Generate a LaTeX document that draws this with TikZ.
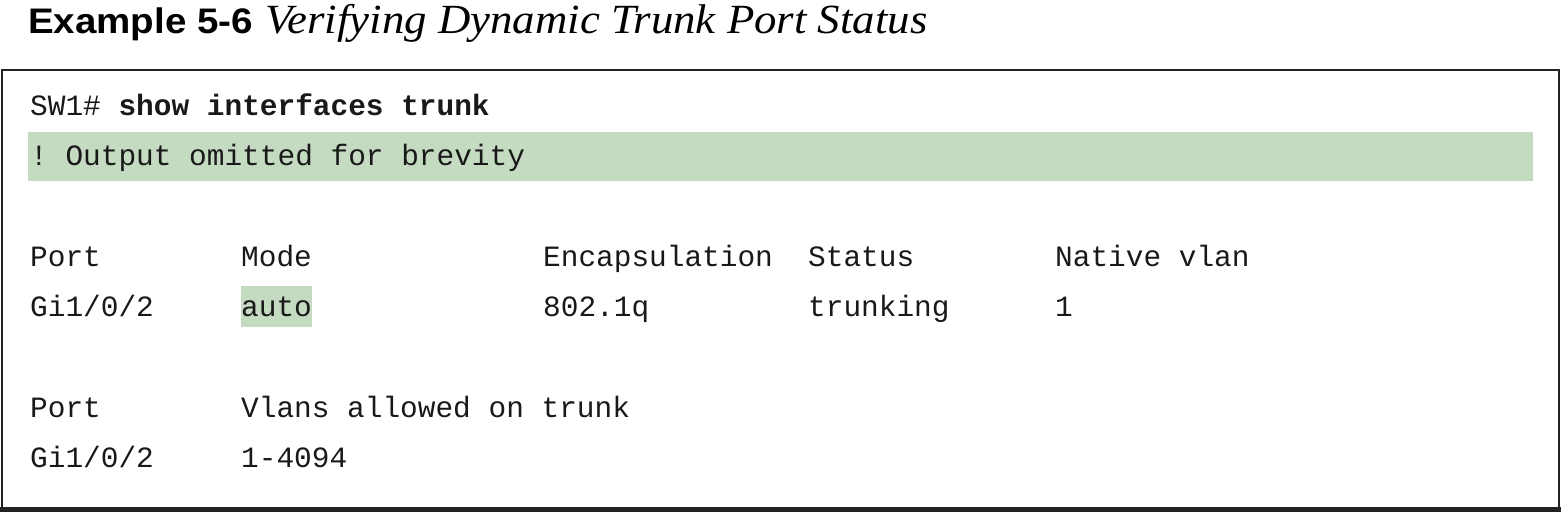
\documentclass[tikz,border=0pt]{standalone}
\usepackage{fontspec}
\newfontfamily\monof{Liberation Mono}
\newfontfamily\headsans{Liberation Sans}
\newfontfamily\headserif{Liberation Serif}
\definecolor{hlgreen}{HTML}{C4DBC1}
\definecolor{framegray}{HTML}{222222}
\frenchspacing
\begin{document}
\begin{tikzpicture}[x=1pt,y=-1pt,
  code/.style={anchor=base west,inner sep=0pt,font=\monof\fontsize{29.45}{30}\selectfont,text=black!90},
  hl/.style={fill=hlgreen,draw=none}]
\useasboundingbox (0,0) rectangle (1566,512);
% title
\node[anchor=base west,inner sep=0pt,font=\headsans\bfseries\fontsize{35.5}{37}\selectfont] (exnum) at (28,33.5) {\scalebox{1.085}[1]{Example 5-6}};
\node[anchor=base west,inner sep=0pt,font=\headserif\itshape\fontsize{41.5}{42}\selectfont] (extitle) at (265,33.5) {\scalebox{1.08}[1]{Verifying Dynamic Trunk Port Status}};
% frame
\draw[framegray,line width=2pt] (2,510) -- (2,70) -- (1559,70) -- (1559,510);
\draw[framegray,line width=5pt] (0,509.5) -- (1561,509.5);
% highlights
\fill[hl] (28,131.5) rectangle (1533,181);
\fill[hl] (241,285.5) rectangle (312,326.5);
% code lines
\node[code] (l1) at (30,115) {SW1\# \textbf{show interfaces trunk}};
\node[code] (l2) at (30,165) {! Output omitted for brevity};
\node[code] (h1) at (30,266) {Port};
\node[code] (h2) at (241,266) {Mode};
\node[code] (h3) at (543,266) {Encapsulation};
\node[code] (h4) at (808,266) {Status};
\node[code] (h5) at (1055,266) {Native vlan};
\node[code] (r1) at (30,316) {Gi1/0/2};
\node[code] (r2) at (241,316) {auto};
\node[code] (r3) at (543,316) {802.1q};
\node[code] (r4) at (808,316) {trunking};
\node[code] (r5) at (1055,316) {1};
\node[code] (v1) at (30,417) {Port};
\node[code] (v2) at (241,417) {Vlans allowed on trunk};
\node[code] (w1) at (30,467) {Gi1/0/2};
\node[code] (w2) at (241,467) {1-4094};
\end{tikzpicture}
\end{document}
